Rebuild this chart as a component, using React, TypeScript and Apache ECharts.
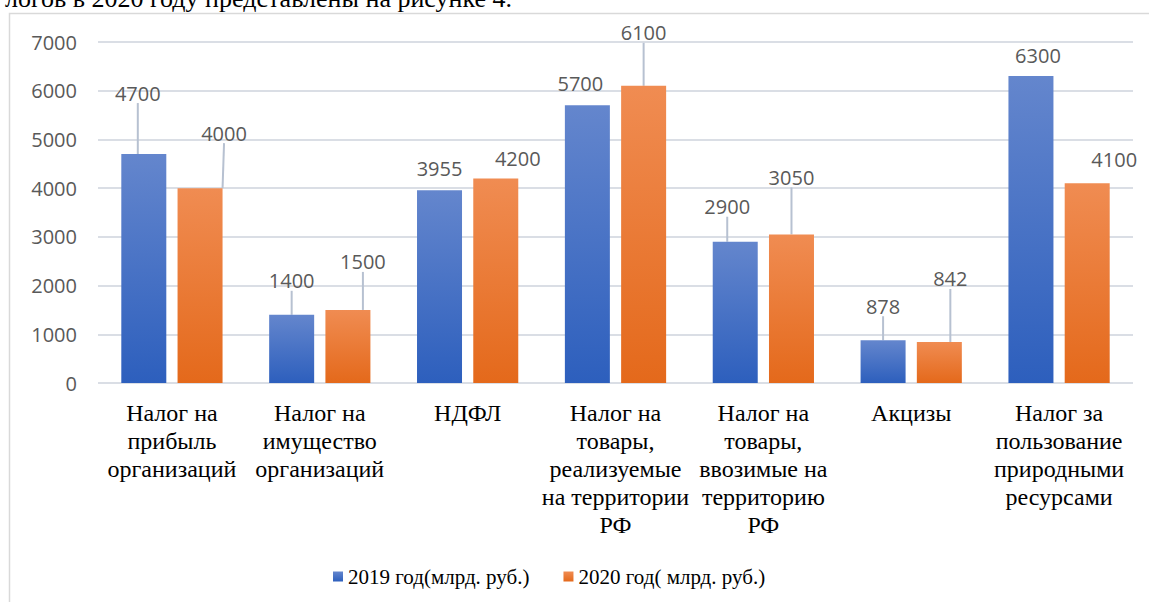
import React, { useEffect, useRef } from "react";
import * as echarts from "echarts";

const categories = [
  "Налог на\nприбыль\nорганизаций",
  "Налог на\nимущество\nорганизаций",
  "НДФЛ",
  "Налог на\nтовары,\nреализуемые\nна территории\nРФ",
  "Налог на\nтовары,\nввозимые на\nтерриторию\nРФ",
  "Акцизы",
  "Налог за\nпользование\nприродными\nресурсами",
];
const seriesNames = ["2019 год(млрд. руб.)", "2020 год( млрд. руб.)"];
const values2019 = [4700, 1400, 3955, 5700, 2900, 878, 6300];
const values2020 = [4000, 1500, 4200, 6100, 3050, 842, 4100];
const yTicks = { min: 0, max: 7000, interval: 1000 };
const captionText = "логов в 2020 году представлены на рисунке 4.";

// label displacement (style only) and whether a leader line is drawn
const shift2019 = [[-6, -46], [0, -19], [0, -7], [-7, -7], [-8, -20], [0, -19], [7, -6]];
const shift2020 = [[24, -40], [15, -33], [22, -5], [0, -38], [0, -42], [11, -48], [27, -9]];
const leader2019 = [true, true, false, false, true, true, false];
const leader2020 = [true, true, false, true, true, true, false];

const SERIF = "'Liberation Serif', 'Times New Roman', serif";

export default function App() {
  const ref = useRef<HTMLDivElement>(null);
  useEffect(() => {
    if (!ref.current) return;
    const chart = echarts.init(ref.current, null, { renderer: "svg" });
    const blue = new echarts.graphic.LinearGradient(0, 0, 0, 1, [
      { offset: 0, color: "#6486cd" },
      { offset: 1, color: "#2d5fbd" },
    ]);
    const orange = new echarts.graphic.LinearGradient(0, 0, 0, 1, [
      { offset: 0, color: "#f08c52" },
      { offset: 1, color: "#e4691b" },
    ]);
    const shifts = [shift2019, shift2020];
    const mk = (vals: number[], leaders: boolean[]) =>
      vals.map((v, i) => ({ value: v, labelLine: { show: leaders[i] } }));
    const labelStyle = {
      show: true,
      position: "top" as const,
      distance: 5,
      fontFamily: "Open Sans",
      fontSize: 20,
      color: "#595959",
    };
    const lineStyle = { show: true, lineStyle: { color: "#b7c1d1", width: 2 } };
    chart.setOption({
      animation: false,
      graphic: [
        {
          type: "rect",
          shape: { x: 9.5, y: 13.5, width: 1300, height: 800 },
          style: { fill: "none", stroke: "#d9d9d9", lineWidth: 1.5 },
          silent: true,
        },
        {
          type: "text",
          x: 512,
          y: 11,
          style: {
            text: captionText,
            fontFamily: SERIF,
            fontSize: 26,
            fill: "#000",
            align: "right",
            verticalAlign: "bottom",
          },
        },
      ],
      grid: { left: 98, right: 16, top: 42, bottom: 219, containLabel: false },
      legend: {
        left: 333,
        top: 566,
        itemWidth: 10,
        itemHeight: 10,
        itemGap: 34,
        padding: 0,
        icon: "rect",
        textStyle: { fontFamily: SERIF, fontSize: 21, color: "#000" },
        data: seriesNames,
      },
      xAxis: {
        type: "category",
        data: categories,
        axisLine: { show: false },
        axisTick: { show: false },
        axisLabel: {
          interval: 0,
          margin: 16,
          fontFamily: SERIF,
          fontSize: 24,
          lineHeight: 28,
          color: "#000",
        },
      },
      yAxis: {
        type: "value",
        min: yTicks.min,
        max: yTicks.max,
        interval: yTicks.interval,
        axisLine: { show: false },
        axisTick: { show: false },
        axisLabel: {
          margin: 21,
          fontFamily: "Open Sans",
          fontSize: 20,
          color: "#595959",
          formatter: (v: number) => String(v),
        },
        splitLine: { lineStyle: { color: "#dadee5", width: 2 } },
      },
      series: [
        {
          name: seriesNames[0],
          type: "bar",
          data: mk(values2019, leader2019),
          barWidth: 45,
          barGap: "25%",
          itemStyle: { color: blue },
          label: labelStyle,
          labelLine: lineStyle,
          labelLayout: (p: any) => ({ dx: shifts[0][p.dataIndex][0], dy: shifts[0][p.dataIndex][1] }),
        },
        {
          name: seriesNames[1],
          type: "bar",
          data: mk(values2020, leader2020),
          barWidth: 45,
          itemStyle: { color: orange },
          label: labelStyle,
          labelLine: lineStyle,
          labelLayout: (p: any) => ({ dx: shifts[1][p.dataIndex][0], dy: shifts[1][p.dataIndex][1] }),
        },
      ],
    });
    return () => chart.dispose();
  }, []);
  return (
    <div
      ref={ref}
      style={{ position: "absolute", left: 0, top: 0, width: 1149, height: 602, background: "#fff" }}
    />
  );
}
